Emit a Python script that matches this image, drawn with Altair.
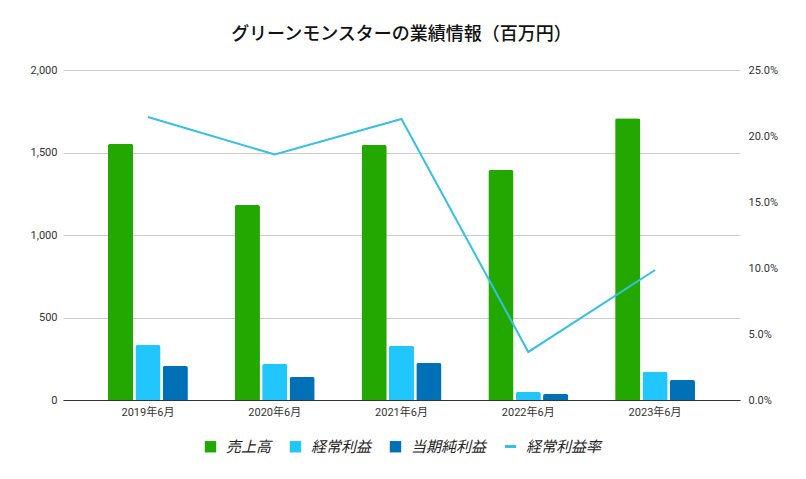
import altair as alt
import pandas as pd

years = ["2019年6月", "2020年6月", "2021年6月", "2022年6月", "2023年6月"]
series = ["売上高", "経常利益", "当期純利益"]
sales = [1552, 1182, 1545, 1394, 1707]
ordinary = [333, 218, 327, 48, 170]
net = [206, 139, 224, 36, 121]
ratio_name = "経常利益率"
ratio = [0.2144, 0.186, 0.2129, 0.0364, 0.0985]

bar_colors = ["#22a800", "#20c6fc", "#0071b7"]
line_color = "#35c0e5"

rows = []
for i, y in enumerate(years):
    for s, vals in zip(series, [sales, ordinary, net]):
        rows.append({"year": y, "series": s, "value": vals[i]})
bars_df = pd.DataFrame(rows)
line_df = pd.DataFrame({"year": years, "ratio": ratio, "name": [ratio_name] * len(years)})

font = "Roboto, 'Noto Sans CJK JP', sans-serif"

x_enc = alt.X(
    "year:N", sort=years, title=None,
    scale=alt.Scale(paddingInner=0.37, paddingOuter=0.355),
    axis=alt.Axis(labelAngle=0, ticks=False, domainColor="#333333", domainWidth=1,
                  labelPadding=6, labelFontSize=11, labelColor="#333333", labelFont=font),
)

bars = alt.Chart(bars_df).mark_bar(cornerRadiusTopLeft=2, cornerRadiusTopRight=2).encode(
    x=x_enc,
    xOffset=alt.XOffset("series:N", sort=series, scale=alt.Scale(paddingInner=0.08, paddingOuter=0)),
    y=alt.Y("value:Q", title=None,
            scale=alt.Scale(domain=[0, 2000], nice=False),
            axis=alt.Axis(values=[0, 500, 1000, 1500, 2000], format=",d", domain=False, ticks=False,
                          labelPadding=6, labelFontSize=11, labelColor="#333333", labelFont=font,
                          gridColor="#cccccc", grid=True)),
    color=alt.Color("series:N", sort=series,
                    scale=alt.Scale(domain=series, range=bar_colors),
                    legend=alt.Legend(title=None, orient="none", direction="horizontal",
                                      legendX=140, legendY=369, symbolType="square",
                                      symbolSize=130, symbolStrokeWidth=0, labelFontSize=15,
                                      labelFontStyle="italic", labelColor="#222222", labelFont=font,
                                      labelOffset=8, columnPadding=16, padding=0)),
)

line = alt.Chart(line_df).mark_line(strokeWidth=2).encode(
    x=alt.X("year:N", sort=years),
    y=alt.Y("ratio:Q", title=None,
            scale=alt.Scale(domain=[0, 0.25], nice=False),
            axis=alt.Axis(orient="right", values=[0, 0.05, 0.1, 0.15, 0.2, 0.25], format=".1%",
                          domain=False, ticks=False, grid=False, labelPadding=8,
                          labelFontSize=11, labelColor="#333333", labelFont=font)),
    color=alt.Color("name:N", scale=alt.Scale(domain=[ratio_name], range=[line_color]),
                    legend=alt.Legend(title=None, orient="none", legendX=440, legendY=369,
                                      symbolType="stroke", symbolSize=121, symbolStrokeWidth=3,
                                      labelFontSize=15, labelFontStyle="italic",
                                      labelColor="#222222", labelFont=font, labelOffset=8,
                                      padding=0)),
)

chart = alt.layer(bars, line).resolve_scale(y="independent", color="independent").properties(
    width=677, height=330,
    autosize=alt.AutoSizeParams(type="none"),
    padding={"left": 55, "top": 62, "right": 58, "bottom": 71},
    title=alt.TitleParams("グリーンモンスターの業績情報（百万円）", fontSize=18, fontWeight=500,
                          font="'Noto Sans CJK JP', sans-serif", color="#111111", offset=20,
                          anchor="middle"),
).configure_view(stroke=None)

chart.save("out.html", embed_options={"renderer": "svg", "actions": False})
